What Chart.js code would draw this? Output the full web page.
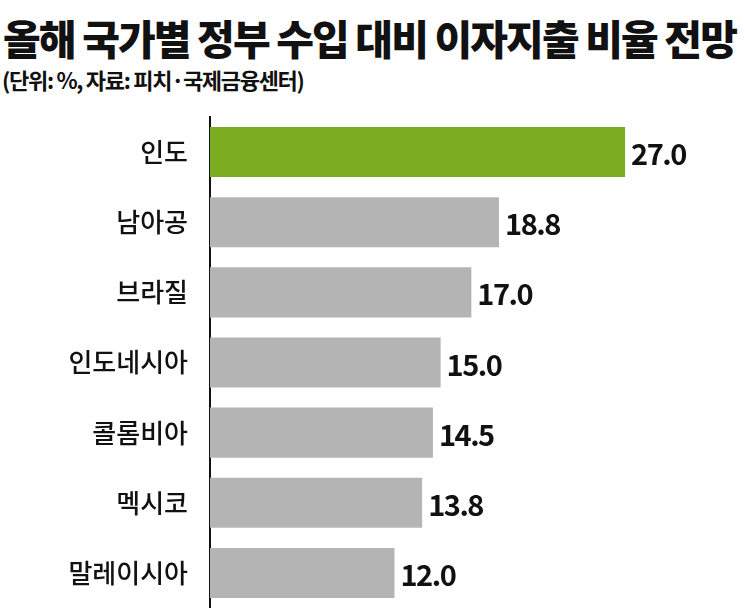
<!DOCTYPE html>
<html><head><meta charset="utf-8">
<script src="https://cdn.jsdelivr.net/npm/chart.js@4/dist/chart.umd.min.js"></script>
<style>
body{margin:0;width:745px;height:616px;background:#fff;overflow:hidden;position:relative;font-family:"Noto Sans CJK KR",sans-serif}
#t{position:absolute;left:3px;top:7px;font-size:41px;font-weight:900;letter-spacing:-1.9px;color:#111;white-space:nowrap}
#s{position:absolute;left:2px;top:63px;font-size:22px;font-weight:700;letter-spacing:-1.3px;color:#111;white-space:nowrap}
#c{position:absolute;left:0;top:108px}
</style></head><body>
<div id="t">올해 국가별 정부 수입 대비 이자지출 비율 전망</div>
<div id="s">(단위: %, 자료: 피치·국제금융센터)</div>
<canvas id="c" width="745" height="500"></canvas>
<script>
const categories=["인도","남아공","브라질","인도네시아","콜롬비아","멕시코","말레이시아"];
const values=[27.0,18.8,17.0,15.0,14.5,13.8,12.0];
const colors=values.map((v,i)=>i===0?"#7aad1f":"#b4b4b4");
const valueLabels={id:"vl",afterDatasetsDraw(ch){const ctx=ch.ctx;ctx.save();ctx.font="700 29px 'Noto Sans CJK KR'";ctx.fillStyle="#111";ctx.textBaseline="middle";ctx.letterSpacing="-1.5px";
ch.getDatasetMeta(0).data.forEach((b,i)=>{ctx.fillText(values[i].toFixed(1),b.x+6,b.y+2);});ctx.restore();}};
new Chart(document.getElementById("c"),{type:"bar",data:{labels:categories,datasets:[{data:values,backgroundColor:colors,barPercentage:50/70,categoryPercentage:1}]},
options:{indexAxis:"y",responsive:false,animation:false,layout:{padding:{top:9,bottom:0,right:0}},
plugins:{legend:{display:false},tooltip:{enabled:false}},
scales:{x:{display:false,min:0,max:34.8},
y:{afterFit(s){s.width=210;s.paddingTop=0;s.paddingBottom=0;},grid:{display:false},border:{display:true,color:"#111",width:2},ticks:{color:"#111",padding:14,font:{family:"Noto Sans CJK KR",size:26,weight:500}}}}},
plugins:[valueLabels]});
</script></body></html>
